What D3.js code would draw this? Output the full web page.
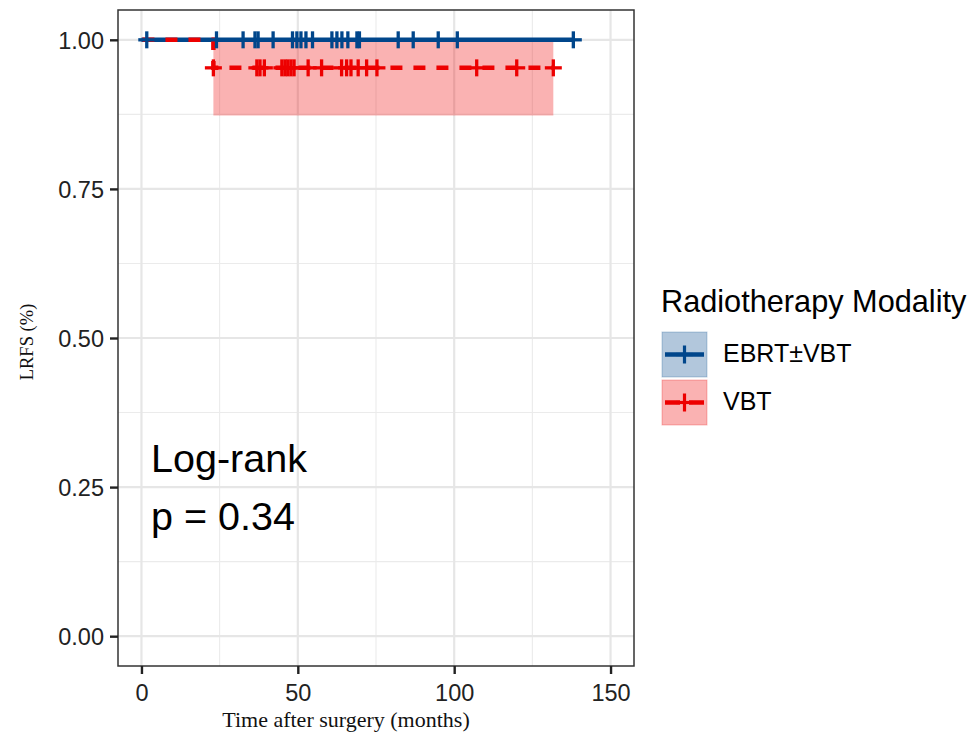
<!DOCTYPE html>
<html>
<head>
<meta charset="utf-8">
<script src="https://cdn.jsdelivr.net/npm/d3@7"></script>
<style>
  body { margin: 0; background: #fff; }
  svg { display: block; }
</style>
</head>
<body>
<div id="chart"></div>
<script>
// Data
const groups = ["EBRT±VBT", "VBT"];
const groupColors = ["#00468B", "#ED0000"];

// step curves: time, survival, CI lower, CI upper
const ebrtTimes = [0];
const ebrtSurv = [1];
const ebrtEnd = 138.1;
const vbtTimes = [0, 23.0];
const vbtSurv = [1, 0.953];
const vbtLower = [1, 0.873];
const vbtUpper = [1, 1];
const vbtEnd = 131.7;

// censoring times
const ebrtCensor = [1.7, 24.0, 32.5, 36.3, 37.3, 42.1, 48.3, 49.7, 51.0, 52.6, 54.7, 60.9,
  62.5, 64.1, 66.0, 68.9, 69.7, 82.1, 86.9, 94.9, 101.0, 138.1];
const vbtCensor = [23.0, 36.9, 37.9, 39.3, 44.9, 45.9, 46.8, 47.8, 48.8, 53.3, 57.6, 64.0,
  65.6, 67.0, 69.3, 72.0, 75.3, 107.2, 120.0, 131.7];

const xTicks = [0, 50, 100, 150];
const xMinor = [25, 75, 125];
const yTicks = [0, 0.25, 0.5, 0.75, 1];
const yMinor = [0.125, 0.375, 0.625, 0.875];

const width = 970, height = 734;
const panel = { left: 118, right: 634, top: 10, bottom: 666 };

const svg = d3.select("#chart").append("svg")
  .attr("width", width)
  .attr("height", height);

const x = d3.scaleLinear().domain([-7.5, 157.5]).range([panel.left, panel.right]);
const y = d3.scaleLinear().domain([-0.05, 1.05]).range([panel.bottom, panel.top]);

// Grid
const grid = svg.append("g");
grid.selectAll(".xminor").data(xMinor).join("line")
  .attr("x1", d => x(d)).attr("x2", d => x(d))
  .attr("y1", panel.top).attr("y2", panel.bottom)
  .attr("stroke", "#ebebeb").attr("stroke-width", 1.1);
grid.selectAll(".yminor").data(yMinor).join("line")
  .attr("y1", d => y(d)).attr("y2", d => y(d))
  .attr("x1", panel.left).attr("x2", panel.right)
  .attr("stroke", "#ebebeb").attr("stroke-width", 1.1);
grid.selectAll(".xmajor").data(xTicks).join("line")
  .attr("x1", d => x(d)).attr("x2", d => x(d))
  .attr("y1", panel.top).attr("y2", panel.bottom)
  .attr("stroke", "#e6e6e6").attr("stroke-width", 2.2);
grid.selectAll(".ymajor").data(yTicks).join("line")
  .attr("y1", d => y(d)).attr("y2", d => y(d))
  .attr("x1", panel.left).attr("x2", panel.right)
  .attr("stroke", "#e6e6e6").attr("stroke-width", 2.2);

// Confidence band for VBT (step ribbon)
const bandPts = vbtTimes.map((t, i) => ({ t, lo: vbtLower[i], hi: vbtUpper[i] }));
bandPts.push({ t: vbtEnd, lo: vbtLower[vbtLower.length - 1], hi: vbtUpper[vbtUpper.length - 1] });
const band = d3.area()
  .curve(d3.curveStepAfter)
  .x(d => x(d.t))
  .y0(d => y(d.lo))
  .y1(d => y(d.hi));
svg.append("path")
  .datum(bandPts.filter(d => d.lo < d.hi || d.t >= vbtTimes[1]))
  .attr("d", band)
  .attr("fill", groupColors[1])
  .attr("fill-opacity", 0.3);

// Survival curves
const stepLine = d3.line().curve(d3.curveStepAfter).x(d => x(d.t)).y(d => y(d.s));

const ebrtPts = ebrtTimes.map((t, i) => ({ t, s: ebrtSurv[i] }));
ebrtPts.push({ t: ebrtEnd, s: ebrtSurv[ebrtSurv.length - 1] });
const vbtPts = vbtTimes.map((t, i) => ({ t, s: vbtSurv[i] }));
vbtPts.push({ t: vbtEnd, s: vbtSurv[vbtSurv.length - 1] });

svg.append("path").datum(ebrtPts).attr("d", stepLine)
  .attr("fill", "none").attr("stroke", groupColors[0]).attr("stroke-width", 4.5);
svg.append("path").datum(vbtPts).attr("d", stepLine)
  .attr("fill", "none").attr("stroke", groupColors[1]).attr("stroke-width", 4.5)
  .attr("stroke-dasharray", "12,11").attr("stroke-dashoffset", -1);

// survival value at time t for a step curve
function survAt(times, surv, t) {
  let s = surv[0];
  times.forEach((tt, i) => { if (t >= tt) s = surv[i]; });
  return s;
}

function drawCensor(times, stimes, surv, color) {
  const g = svg.append("g").attr("stroke", color).attr("stroke-width", 3.3);
  times.forEach(t => {
    const cx = x(t), cy = y(survAt(stimes, surv, t));
    g.append("line").attr("x1", cx - 8.5).attr("x2", cx + 8.5).attr("y1", cy).attr("y2", cy);
    g.append("line").attr("x1", cx).attr("x2", cx).attr("y1", cy - 8.5).attr("y2", cy + 8.5);
  });
}
drawCensor(ebrtCensor, ebrtTimes, ebrtSurv, groupColors[0]);
drawCensor(vbtCensor, vbtTimes, vbtSurv, groupColors[1]);

// Panel border
svg.append("rect")
  .attr("x", panel.left).attr("y", panel.top)
  .attr("width", panel.right - panel.left).attr("height", panel.bottom - panel.top)
  .attr("fill", "none").attr("stroke", "#333").attr("stroke-width", 1.5);

// Axes
const yAxis = svg.append("g").attr("transform", `translate(${panel.left},0)`)
  .call(d3.axisLeft(y).tickValues(yTicks).tickFormat(d3.format(".2f")).tickSize(8).tickPadding(6));
const xAxis = svg.append("g").attr("transform", `translate(0,${panel.bottom})`)
  .call(d3.axisBottom(x).tickValues(xTicks).tickSize(8).tickPadding(10));
[xAxis, yAxis].forEach(a => {
  a.select(".domain").remove();
  a.selectAll(".tick line").attr("stroke", "#222").attr("stroke-width", 2.4);
  a.selectAll(".tick text")
    .attr("fill", "#222")
    .style("font-family", "Arial, 'Liberation Sans', sans-serif")
    .style("font-size", "23.5px");
});
yAxis.selectAll(".tick text").attr("dy", "0.35em");

// Axis titles
svg.append("text")
  .attr("x", 346).attr("y", 727)
  .attr("text-anchor", "middle")
  .style("font-family", "'Times New Roman', 'Liberation Serif', serif")
  .style("font-size", "22px")
  .attr("fill", "#111")
  .text("Time after surgery (months)");
svg.append("text")
  .attr("transform", `translate(33,${342}) rotate(-90)`)
  .attr("text-anchor", "middle")
  .style("font-family", "'Times New Roman', 'Liberation Serif', serif")
  .style("font-size", "18.5px")
  .attr("fill", "#111")
  .text("LRFS (%)");

// Log-rank annotation
const ann = svg.append("g")
  .style("font-family", "Arial, 'Liberation Sans', sans-serif")
  .style("font-size", "39.5px")
  .attr("fill", "#000");
ann.append("text").attr("x", 151).attr("y", 472).text("Log-rank");
ann.append("text").attr("x", 151).attr("y", 530).text("p = 0.34");

// Legend
const legend = svg.append("g").style("font-family", "Arial, 'Liberation Sans', sans-serif");
legend.append("text").attr("x", 661).attr("y", 312)
  .style("font-size", "30.7px").attr("fill", "#000").text("Radiotherapy Modality");

groups.forEach((name, i) => {
  const ky = 332 + i * 48;
  const g = legend.append("g");
  g.append("rect").attr("x", 662).attr("y", ky).attr("width", 45).attr("height", 45)
    .attr("fill", groupColors[i]).attr("fill-opacity", 0.3)
    .attr("stroke", groupColors[i]).attr("stroke-opacity", 0.25).attr("stroke-width", 1);
  g.append("line").attr("x1", 665).attr("x2", 704).attr("y1", ky + 22.5).attr("y2", ky + 22.5)
    .attr("stroke", groupColors[i]).attr("stroke-width", 4.5)
    .attr("stroke-dasharray", i === 1 ? "15,9" : null);
  g.append("line").attr("x1", 684.5).attr("x2", 684.5).attr("y1", ky + 13.5).attr("y2", ky + 31.5)
    .attr("stroke", groupColors[i]).attr("stroke-width", 3.2);
  g.append("line").attr("x1", 676).attr("x2", 693).attr("y1", ky + 22.5).attr("y2", ky + 22.5)
    .attr("stroke", groupColors[i]).attr("stroke-width", 3.2);
  g.append("text").attr("x", 723).attr("y", ky + 30)
    .style("font-size", "25px").attr("fill", "#000").text(name);
});
</script>
</body>
</html>
